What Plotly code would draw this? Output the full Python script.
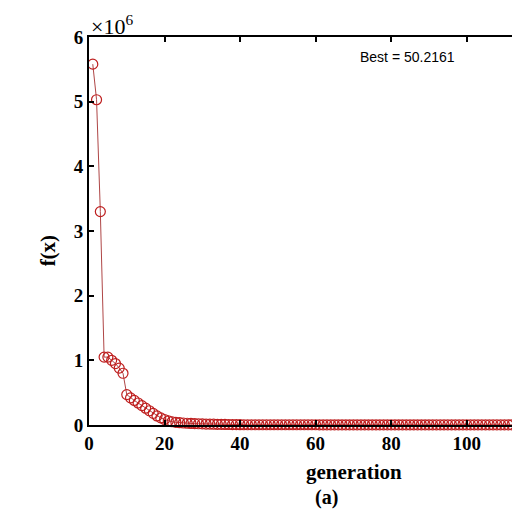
import plotly.graph_objects as go

generation = list(range(1, 151))
head = [5.58, 5.03, 3.30, 1.05, 1.05, 1.00, 0.95, 0.88, 0.80, 0.47,
        0.42, 0.38, 0.34, 0.30, 0.26, 0.22, 0.18, 0.14, 0.11, 0.085,
        0.065, 0.05, 0.042, 0.036, 0.031, 0.027, 0.024, 0.021, 0.019, 0.017,
        0.015, 0.013, 0.012, 0.011, 0.010, 0.009, 0.008, 0.007, 0.006, 0.005]
tail = [0.004] * 20 + [0.003] * 30 + [0.002] * 60
fx = [v * 1e6 for v in head + tail]

x_ticks = [0, 20, 40, 60, 80, 100, 120]
y_ticks = [0, 1e6, 2e6, 3e6, 4e6, 5e6, 6e6]
y_tick_labels = ["0", "1", "2", "3", "4", "5", "6"]

serif = "Liberation Serif"
red = "rgb(190,30,30)"

fig = go.Figure()
fig.add_trace(go.Scatter(
    x=generation, y=fx, mode="lines+markers", cliponaxis=False,
    line=dict(color="rgb(175,70,70)", width=1),
    marker=dict(symbol="circle-open", size=10, color=red, line=dict(width=1.2, color=red)),
    showlegend=False,
))

fig.update_layout(
    width=512, height=512,
    margin=dict(l=89, r=0, t=37, b=87),
    paper_bgcolor="white", plot_bgcolor="white",
    xaxis=dict(range=[0, 112], tickvals=x_ticks, ticks="inside", ticklen=5, tickwidth=2,
               tickcolor="black", showline=True, linewidth=2, linecolor="black",
               mirror="ticks", showgrid=False, zeroline=False,
               tickfont=dict(family=serif, size=19, color="black", weight="bold")),
    yaxis=dict(range=[0, 6e6], tickvals=y_ticks, ticktext=y_tick_labels, ticks="inside",
               ticklen=5, tickwidth=2, tickcolor="black", showline=True, linewidth=2,
               linecolor="black", mirror=False, showgrid=False, zeroline=False,
               tickfont=dict(family=serif, size=19, color="black", weight="bold")),
    annotations=[
        dict(text="generation", xref="paper", yref="paper", x=(354 - 89) / 423, y=-0.121,
             xanchor="center", yanchor="middle", showarrow=False,
             font=dict(family=serif, size=21, color="black", weight="bold")),
        dict(text="(a)", xref="paper", yref="paper", x=(326 - 89) / 423, y=-0.186,
             xanchor="center", yanchor="middle", showarrow=False,
             font=dict(family=serif, size=20, color="black", weight="bold")),
        dict(text="f(x)", xref="paper", yref="paper", x=-0.097, y=0.45, textangle=-90,
             xanchor="center", yanchor="middle", showarrow=False,
             font=dict(family=serif, size=21, color="black", weight="bold")),
        dict(text="×10<sup>6</sup>", xref="paper", yref="paper", x=0.0, y=1.0, yshift=-4,
             xanchor="left", yanchor="bottom", showarrow=False,
             font=dict(family=serif, size=22, color="black")),
        dict(text="Best = 50.2161", xref="paper", yref="paper", x=(407 - 89) / 423, y=0.948,
             xanchor="center", yanchor="middle", showarrow=False,
             font=dict(family="Liberation Sans", size=14, color="black")),
    ],
)

fig.write_html("out.html")
